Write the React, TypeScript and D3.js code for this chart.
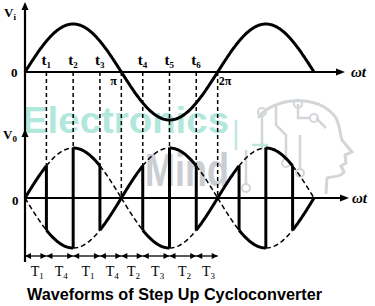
import React, { useEffect, useRef } from "react";
import * as d3 from "d3";

// switching instants, degrees of input wt
const tAngles = [40, 90, 140, 220, 270, 320];
const tLabels = ["1", "2", "3", "4", "5", "6"];
const halfCycles = [180, 360];
const halfLabels = ["π", "2π"];
// output segments (3 half cycles shown) and their polarity
const boundaries = [0, 40, 90, 140, 180, 220, 270, 320, 360, 400, 450, 500, 540];
const polarity = [1, -1, 1, -1, 1, -1, 1, -1, 1, -1, 1, -1];
const thyristors = ["1", "4", "1", "4", "2", "3", "2", "3"];
const endAngle = 540;

const SERIF = "'Liberation Serif', 'DejaVu Serif', serif";

const App = () => {
  const ref = useRef<SVGSVGElement>(null);

  useEffect(() => {
    const svg = d3.select(ref.current);
    svg.selectAll("*").remove();

    const x = d3.scaleLinear().domain([0, endAngle]).range([25, 314]);
    const yIn = d3.scaleLinear().domain([-1, 1]).range([120, 24]);
    const yOut = d3.scaleLinear().domain([-1, 1]).range([248, 148]);
    const rad = (d: number) => (d * Math.PI) / 180;
    const env = (d: number) => Math.abs(Math.sin(rad(d)));
    const curve = (a: number, b: number, f: (d: number) => number, y: any) =>
      d3.line()(d3.range(a, b + 0.01, 1).map((d) => [x(d), y(f(d))] as [number, number]));

    // watermark
    const wm = svg.append("g");
    wm.append("text")
      .attr("x", 22)
      .attr("y", 133)
      .attr("font-family", "'Liberation Sans', Arial, sans-serif")
      .attr("font-weight", "bold")
      .attr("font-size", 37)
      .attr("textLength", 207)
      .attr("lengthAdjust", "spacingAndGlyphs")
      .attr("fill", "#b2e7dc")
      .text("Electronics");
    wm.append("text")
      .attr("x", 145)
      .attr("y", 186)
      .attr("font-family", "'Liberation Sans', Arial, sans-serif")
      .attr("font-weight", "bold")
      .attr("font-size", 46)
      .attr("textLength", 84)
      .attr("lengthAdjust", "spacingAndGlyphs")
      .attr("fill", "#caced2")
      .text("Mind");
    wm.append("path")
      .attr(
        "d",
        "M258 118 C272 98 318 92 336 118 C340 126 340 134 342 140 L352 152 L345 155 L346 163 L341 166 L344 172 C340 178 332 176 327 178 L326 194"
      )
      .attr("fill", "none")
      .attr("stroke", "#d3d6d9")
      .attr("stroke-width", 3);
    const circuit = [
      "M262 112 L262 150",
      "M276 106 L276 125 L286 135 L286 160",
      "M298 104 L298 118 L310 118",
      "M316 118 L326 128",
      "M300 135 L300 170",
      "M246 150 L246 185",
    ];
    circuit.forEach((d) =>
      wm.append("path").attr("d", d).attr("fill", "none").attr("stroke", "#d3d6d9").attr("stroke-width", 2.5)
    );
    [[262, 112], [298, 104], [314, 118], [300, 173], [246, 188], [286, 163]].forEach(([cx, cy]) =>
      wm.append("circle").attr("cx", cx).attr("cy", cy).attr("r", 4).attr("fill", "none").attr("stroke", "#d3d6d9").attr("stroke-width", 2)
    );
    ["M236 120 L236 150", "M252 145 L268 145"].forEach((d) =>
      wm.append("path").attr("d", d).attr("fill", "none").attr("stroke", "#bfe6df").attr("stroke-width", 2.5)
    );

    // dashed guide lines from the input axis down to the output envelope
    [...tAngles, ...halfCycles].forEach((a) => {
      svg.append("line")
        .attr("x1", x(a))
        .attr("x2", x(a))
        .attr("y1", yIn(0))
        .attr("y2", yOut(env(a)))
        .attr("stroke", "#000")
        .attr("stroke-width", 1.5)
        .attr("stroke-dasharray", "4,3");
    });

    // axes
    const axis = svg.append("g").attr("stroke", "#000").attr("stroke-width", 2.2);
    axis.append("line").attr("x1", x(0)).attr("x2", x(0)).attr("y1", 6).attr("y2", 262);
    axis.append("line").attr("x1", x(0)).attr("x2", 338).attr("y1", yIn(0)).attr("y2", yIn(0));
    axis.append("line").attr("x1", x(0)).attr("x2", 342).attr("y1", yOut(0)).attr("y2", yOut(0));
    const heads = [
      `M${x(0)} 2 L${x(0) - 3.5} 10 L${x(0) + 3.5} 10 Z`,
      `M${x(0)} 129 L${x(0) - 3.5} 137 L${x(0) + 3.5} 137 Z`,
      `M345 ${yIn(0)} L336 ${yIn(0) - 3.5} L336 ${yIn(0) + 3.5} Z`,
      `M349 ${yOut(0)} L340 ${yOut(0) - 3.5} L340 ${yOut(0) + 3.5} Z`,
    ];
    heads.forEach((d) => svg.append("path").attr("d", d).attr("fill", "#000"));

    // input voltage
    svg.append("path")
      .attr("d", curve(0, endAngle, (d) => Math.sin(rad(d)), yIn))
      .attr("fill", "none")
      .attr("stroke", "#000")
      .attr("stroke-width", 3);

    // output envelopes, solid where the segment conducts
    polarity.forEach((p, i) => {
      const a = boundaries[i];
      const b = boundaries[i + 1];
      [1, -1].forEach((s) => {
        const on = s === p;
        svg.append("path")
          .attr("d", curve(a, b, (d) => s * env(d), yOut))
          .attr("fill", "none")
          .attr("stroke", "#000")
          .attr("stroke-width", on ? 3 : 1.5)
          .attr("stroke-dasharray", on ? null : "5,3");
      });
    });

    // switching lines
    boundaries
      .filter((a) => a % 180 !== 0)
      .forEach((a) => {
        svg.append("line")
          .attr("x1", x(a))
          .attr("x2", x(a))
          .attr("y1", yOut(env(a)))
          .attr("y2", yOut(-env(a)))
          .attr("stroke", "#000")
          .attr("stroke-width", 3);
      });

    // thyristor conduction intervals
    const ay = 256;
    thyristors.forEach((t, i) => {
      const a = x(boundaries[i]);
      const b = x(boundaries[i + 1]);
      svg.append("line").attr("x1", a).attr("x2", b).attr("y1", ay).attr("y2", ay).attr("stroke", "#000").attr("stroke-width", 1.3);
      svg.append("path").attr("d", `M${a} ${ay} L${a + 6} ${ay - 3} L${a + 6} ${ay + 3} Z`).attr("fill", "#000");
      svg.append("path").attr("d", `M${b} ${ay} L${b - 6} ${ay - 3} L${b - 6} ${ay + 3} Z`).attr("fill", "#000");
      const lbl = svg.append("text")
        .attr("x", (a + b) / 2 - 5)
        .attr("y", 276)
        .attr("font-family", SERIF)
        .attr("font-size", 14)
        .attr("fill", "#000");
      lbl.append("tspan").text("T");
      lbl.append("tspan").attr("font-size", 9).attr("dy", 3).text(t);
    });

    // labels
    const lab = (tx: number, ty: number, main: string, sub: string | null, size = 14, italic = false) => {
      const el = svg.append("text")
        .attr("x", tx)
        .attr("y", ty)
        .attr("font-family", SERIF)
        .attr("font-weight", "bold")
        .attr("font-style", italic ? "italic" : "normal")
        .attr("font-size", size)
        .attr("fill", "#000");
      el.append("tspan").text(main);
      if (sub) el.append("tspan").attr("font-size", 9).attr("dy", 3).text(sub);
    };
    lab(4, 17, "V", "i", 13);
    lab(3, 139, "V", "0", 13);
    lab(11, 77, "0", null, 13);
    lab(12, 205, "0", null, 13);
    lab(351, 77, "ωt", null, 15, true);
    lab(352, 203, "ωt", null, 15, true);
    tAngles.forEach((a, i) => lab(x(a) - 5, 65, "t", tLabels[i], 15));
    halfCycles.forEach((a, i) => lab(x(a) - (i === 0 ? 11 : -1), 85, halfLabels[i], null, 12));

    svg.append("text")
      .attr("x", 27)
      .attr("y", 300)
      .attr("font-family", "'Liberation Sans', Arial, sans-serif")
      .attr("font-weight", "bold")
      .attr("font-size", 16.5)
      .attr("textLength", 295)
      .attr("lengthAdjust", "spacingAndGlyphs")
      .attr("fill", "#000")
      .text("Waveforms of Step Up Cycloconverter");
  }, []);

  return (
    <div>
      <svg ref={ref} width={375} height={306} style={{ position: "absolute", left: 0, top: 0, background: "#fff" }} />
    </div>
  );
};

export default App;
